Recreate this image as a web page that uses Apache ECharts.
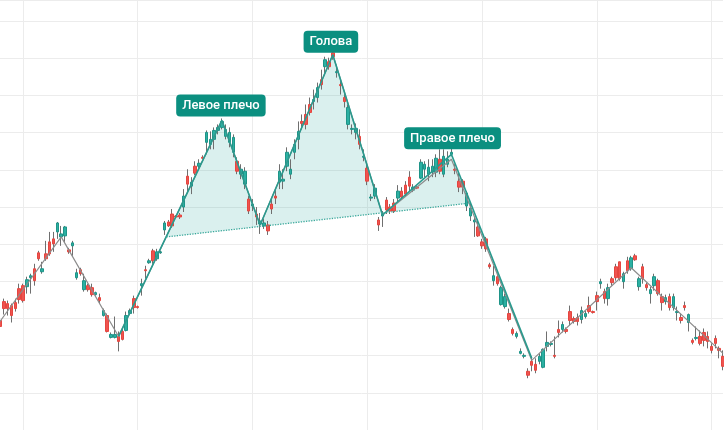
<!DOCTYPE html>
<html><head><meta charset="utf-8">
<script src="https://cdn.jsdelivr.net/npm/echarts@6/dist/echarts.min.js"></script>
<style>html,body{margin:0;padding:0;background:#fff}#c{width:724px;height:430px}</style>
</head><body><div id="c"></div>
<script>
const open = [
110,129,127,125,128,142,145,144,153,162,
178,159,177,189,192,199,194,195,181,185,
153,161,141,145,143,136,133,115,115,93,
93,94,99,100,117,132,124,145,161,168,
180,172,178,201,209,217,215,216,224,255,
245,265,265,274,289,287,292,301,304,295,
289,279,270,257,247,232,225,217,207,205,
206,227,235,249,250,265,257,279,292,310,
317,327,330,334,352,365,370,379,359,347,
334,307,302,299,295,274,263,233,235,211,
215,231,224,228,233,240,246,254,241,244,
253,262,257,259,259,272,257,267,277,262,
250,250,225,215,209,204,189,192,166,150,
154,126,124,117,101,94,77,74,59,69,
66,69,63,84,86,75,101,101,101,119,
112,113,111,114,125,119,135,147,139,132,
152,164,169,149,170,162,175,144,164,146,
137,145,150,134,129,134,123,118,113,125,
108,90,92,94,98,94,84,92,82,74];
const close = [
104,122,122,115,122,131,130,151,155,150,
172,162,172,177,187,208,197,204,179,188,
158,157,150,141,136,138,130,120,99,96,
96,89,91,115,120,123,123,147,160,170,
170,179,179,208,205,205,214,214,235,247,
249,258,268,273,299,292,301,304,310,302,
299,294,260,262,260,220,227,214,210,208,
200,222,233,260,252,279,262,287,300,308,
307,319,332,344,347,372,365,375,360,346,
330,324,303,303,287,275,250,234,243,206,
217,221,220,220,240,234,237,245,244,243,
269,267,264,265,273,260,275,272,279,261,
244,244,238,223,211,195,185,182,164,155,
147,143,134,111,97,97,79,75,55,65,
60,74,81,88,87,74,98,106,99,110,
109,109,120,117,119,118,129,149,132,143,
148,153,152,157,160,173,171,152,152,143,
141,154,137,128,133,123,134,119,110,123,
116,88,93,87,90,89,80,87,80,64];
const low = [
100,116,115,108,119,127,128,137,137,145,
170,157,170,175,179,192,185,189,177,175,
151,155,139,139,134,135,127,114,98,92,
92,79,90,99,116,117,122,135,152,167,
167,170,177,196,204,203,213,212,219,239,
237,256,262,272,277,282,282,297,302,292,
284,274,257,252,242,217,220,206,197,202,
196,217,227,242,242,260,252,272,282,302,
302,316,322,329,342,357,362,372,354,337,
324,302,297,292,282,270,246,230,232,200,
204,217,217,218,229,232,235,240,239,242,
252,254,250,254,254,257,254,264,275,257,
239,237,220,210,194,194,182,179,162,145,
145,125,122,109,95,92,76,72,52,59,
57,66,62,79,84,72,93,98,97,105,
107,105,107,112,117,117,120,142,127,125,
145,150,150,142,157,160,170,140,147,140,
127,140,135,120,126,120,120,110,107,120,
99,86,90,85,84,82,77,82,72,60];
const high = [
114,132,130,127,132,147,147,154,157,167,
180,169,190,199,199,209,205,205,183,190,
162,163,157,147,147,139,137,122,117,98,
114,99,102,119,122,135,125,152,165,172,
182,182,180,210,211,222,216,218,242,262,
254,270,272,276,301,300,304,307,313,307,
304,297,274,267,264,235,232,224,218,212,
210,232,242,267,262,284,272,292,310,317,
327,334,342,349,362,375,374,382,367,352,
340,327,307,308,302,282,267,237,247,214,
220,234,227,232,246,244,250,260,247,245,
272,270,272,272,277,282,282,280,284,267,
259,252,240,227,214,212,192,194,168,165,
157,145,137,122,103,99,82,77,62,74,
72,77,82,99,89,94,110,109,103,125,
114,117,124,120,134,120,139,152,142,147,
154,167,169,159,174,175,177,154,167,148,
144,157,152,137,136,137,137,124,117,129,
117,92,104,100,102,99,87,95,84,80];

const categories = open.map((_, i) => 'D' + (i + 1));

// zigzag (gray)
const zigIdx = [0, 16, 31, 58, 68, 87, 100, 118, 139, 165, 189];
const zigVal = [109, 194, 94, 311, 206, 377, 216, 272, 70, 163, 77];
// head & shoulders pattern line (teal)
const patIdx = [31, 58, 68, 87, 100, 118, 139];
const patVal = [94, 311, 206, 377, 216, 277, 72];
// neckline
const neckIdx = [43.5, 123];
const neckVal = [194, 228];
// shaded pattern area
const fillIdx = [43.5, 58, 68, 87, 100, 118, 123];
const fillVal = [194, 311, 206, 377, 216, 277, 228];
// labels
const labelText = ['Левое плечо', 'Голова', 'Правое плечо'];
const labelIdx = [57.75, 86.5, 118.3];
const labelVal = [326, 390, 293];

const full = open.map((o, i) => [o, close[i], low[i], high[i]]);
const body = open.map((o, i) => [o, close[i], Math.min(o, close[i]), Math.max(o, close[i])]);
const pairs = (xs, ys) => xs.map((x, i) => [x, ys[i]]);

const chart = echarts.init(document.getElementById('c'), null, {renderer: 'canvas'});
chart.setOption({
  animation: false,
  backgroundColor: '#ffffff',
  grid: {left: -1, right: 1, top: 0, bottom: -2},
  xAxis: [
    {type: 'category', data: categories, boundaryGap: false,
     axisLine: {show: false}, axisTick: {show: false}, axisLabel: {show: false},
     splitLine: {show: true, interval: (i) => i % 30 === 6, lineStyle: {color: '#ececec', width: 1}}},
    {type: 'value', min: 0, max: 189, show: false}
  ],
  yAxis: {type: 'value', min: 0, max: 432, interval: 37.34,
    axisLine: {show: false}, axisTick: {show: false}, axisLabel: {show: false},
    splitLine: {show: true, lineStyle: {color: '#ececec', width: 1}}},
  series: [
    {type: 'candlestick', data: full, barWidth: 0,
     itemStyle: {color: '#6f6f6f', color0: '#6f6f6f', borderColor: '#6f6f6f', borderColor0: '#6f6f6f', borderWidth: 1}},
    {type: 'candlestick', data: body, barWidth: 3,
     itemStyle: {color: '#2bb0a2', color0: '#ef5350', borderColor: '#1f9488', borderColor0: '#e5463f', borderWidth: 1}},
    {type: 'custom', xAxisIndex: 1, data: [[fillIdx[0], fillVal[0]]],
     renderItem: (params, api) => ({
       type: 'polygon',
       shape: {points: fillIdx.map((x, i) => api.coord([x, fillVal[i]]))},
       style: {fill: 'rgba(38,166,154,0.17)'}
     })},
    {type: 'line', xAxisIndex: 1, data: pairs(zigIdx, zigVal), symbol: 'none',
     lineStyle: {color: '#8c8c8c', width: 1.2}},
    {type: 'line', xAxisIndex: 1, data: pairs(patIdx, patVal), symbol: 'none',
     lineStyle: {color: '#2a9a8e', width: 1.6}},
    {type: 'line', xAxisIndex: 1, data: pairs(neckIdx, neckVal), symbol: 'none',
     lineStyle: {color: '#3aa89b', width: 1.3, type: 'dotted'}},
    {type: 'scatter', xAxisIndex: 1, symbolSize: 2, z: 10,
     itemStyle: {color: 'rgba(0,0,0,0)', opacity: 1},
     data: labelIdx.map((x, i) => ({value: [x, labelVal[i]], name: labelText[i]})),
     label: {show: true, position: 'inside', formatter: '{b}', color: '#ffffff',
       backgroundColor: '#0b8f80', borderRadius: 4, padding: [4, 6, 3, 6], opacity: 1,
       fontSize: 13, fontWeight: 500, lineHeight: 15, fontFamily: 'Roboto, "Noto Sans", sans-serif'}}
  ]
});
</script>
</body></html>
